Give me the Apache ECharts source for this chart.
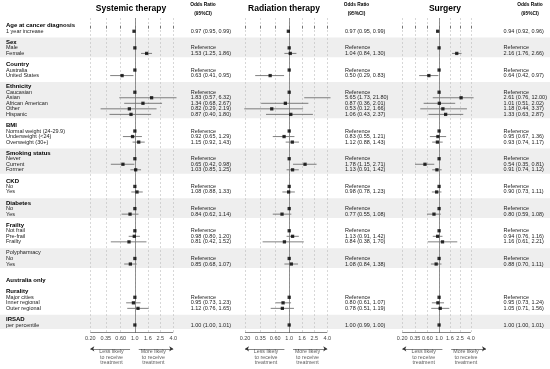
<!DOCTYPE html>
<html><head><meta charset="utf-8">
<script src="https://cdn.jsdelivr.net/npm/echarts@6/dist/echarts.min.js"></script>
<style>html,body{margin:0;padding:0;background:#fff}#c{width:550px;height:369px}</style>
</head><body><div id="c"></div>
<script>
// ---------- data ----------
const rowLabels = ['Age at cancer diagnosis','1 year increase','','Sex','Male','Female','','Country','Australia','United States','',
  'Ethnicity','Caucasian','Asian','African American','Other','Hispanic','','BMI','Normal weight (24-29.9)','Underweight (<24)','Overweight (30+)','',
  'Smoking status','Never','Current','Former','','CKD','No','Yes','','Diabetes','No','Yes','','Frailty','Not frail','Pre-frail','Frailty','',
  'Polypharmacy','No','Yes','','','Australia only','','Rurality','Major cities','Inner regional','Outer regional','','IRSAD','per percentile'];
const headerRows = [0,3,7,11,18,23,28,32,36,46,48,53];
const refRows = [4,8,12,19,24,29,33,37,42,49];
const estRows = [1,5,9,13,14,15,16,20,21,25,26,30,34,38,39,43,50,51,54];

const systemicOR = [0.97,1.53,0.63,1.83,1.34,0.82,0.87,0.92,1.15,0.65,1.03,1.08,0.84,0.98,0.81,0.85,0.95,1.12,1.00];
const systemicLo = [0.95,1.25,0.41,0.57,0.68,0.29,0.40,0.65,0.92,0.42,0.85,0.88,0.62,0.80,0.42,0.68,0.73,0.76,1.00];
const systemicHi = [0.99,1.86,0.95,6.32,2.67,2.19,1.80,1.29,1.43,0.98,1.25,1.33,1.14,1.20,1.52,1.07,1.23,1.65,1.01];

const radiationOR = [0.97,1.04,0.50,5.65,0.87,0.53,1.06,0.83,1.12,1.78,1.13,0.98,0.77,1.13,0.84,1.08,0.80,0.78,1.00];
const radiationLo = [0.95,0.84,0.29,1.73,0.36,0.12,0.43,0.55,0.88,1.15,0.91,0.78,0.55,0.91,0.38,0.84,0.61,0.51,0.99];
const radiationHi = [0.99,1.30,0.83,21.80,2.01,1.66,2.37,1.21,1.43,2.71,1.42,1.23,1.08,1.42,1.70,1.38,1.07,1.19,1.00];

const surgeryOR = [0.94,2.16,0.64,2.61,1.01,1.18,1.33,0.95,0.93,0.54,0.91,0.90,0.80,0.94,1.16,0.88,0.95,1.05,1.00];
const surgeryLo = [0.92,1.76,0.42,0.76,0.51,0.44,0.63,0.67,0.74,0.35,0.74,0.73,0.59,0.76,0.61,0.70,0.73,0.71,1.00];
const surgeryHi = [0.96,2.66,0.97,12.00,2.02,3.37,2.87,1.36,1.17,0.81,1.12,1.11,1.08,1.16,2.21,1.11,1.24,1.56,1.01];

const panelTitles = ['Systemic therapy','Radiation therapy','Surgery'];
const tickValues = [0.2,0.35,0.6,1.0,1.6,2.5,4.0];
const tickLabels = ['0.20','0.35','0.60','1.0','1.6','2.5','4.0'];
const shadedGroups = [[3,5],[11,16],[23,26],[32,34],[41,43],[53,54]];
const lessText = 'Less likely\nto receive\ntreatment';
const moreText = 'More likely\nto receive\ntreatment';
const lessArrow = [0.2,0.84], moreArrow = [1.15,4.0], lessTextAt = 0.43, moreTextAt = 1.95;

// ---------- layout ----------
const FONT = "'Liberation Sans', Arial, sans-serif";
const ROW_MIN = -1.39, ROW_MAX = 55.39;
const GT = 18, GH = 314.7;
const XMIN = Math.log(0.195), XMAX = Math.log(4.5);
const panelLeft = [89.6, 244.3, 401.6], panelWidth = [86.9, 86.2, 87.7];
const orMargin = [14.2, 14.5, 30];
const titleX = [131, 284, 445], orHeadX = [203, 356.5, 530];

const panels = [
  {or: systemicOR, lo: systemicLo, hi: systemicHi},
  {or: radiationOR, lo: radiationLo, hi: radiationHi},
  {or: surgeryOR, lo: surgeryLo, hi: surgeryHi}
];

const grid = [{left: 0, right: 0, top: GT, height: GH}];
const xAxis = [{gridIndex: 0, type: 'value', min: 0, max: 1, show: false}];
const yAxis = [{gridIndex: 0, type: 'value', min: ROW_MIN, max: ROW_MAX, inverse: true, show: false}];
const series = [];

series.push({
  type: 'custom', xAxisIndex: 0, yAxisIndex: 0, z: -10, silent: true,
  data: shadedGroups.map(g => [0, g[0], g[1]]),
  renderItem(params, api) {
    const cs = params.coordSys;
    const a = api.coord([0, api.value(1) - 0.86]);
    const b = api.coord([0, api.value(2) + 0.7]);
    return {type: 'rect', shape: {x: cs.x, y: a[1], width: cs.width, height: b[1] - a[1]}, style: {fill: '#eeeeee'}};
  }
});

const fmtOR = (k, p) => p.or[k].toFixed(2) + ' (' + p.lo[k].toFixed(2) + ', ' + p.hi[k].toFixed(2) + ')';
const tickLogs = tickValues.map(Math.log);
const tickFmt = v => { const i = tickLogs.findIndex(t => Math.abs(t - v) < 1e-6); return i >= 0 ? tickLabels[i] : ''; };
// padded with an empty slot at each end so that no real row is an end label
const labelSlots = [-1].concat(rowLabels.map((_, i) => i), [rowLabels.length]);

panels.forEach((p, k) => {
  const gi = grid.length;
  grid.push({left: panelLeft[k], width: panelWidth[k], top: GT, height: GH});
  xAxis.push({
    gridIndex: gi, type: 'value', min: XMIN, max: XMAX,
    axisLine: {show: false},
    axisTick: {show: true, customValues: tickLogs, length: 3, lineStyle: {color: '#333', width: 0.6}},
    axisLabel: {show: true, customValues: tickLogs, formatter: tickFmt, fontSize: 5.5, color: '#444', margin: 3, fontFamily: FONT, showMinLabel: true, showMaxLabel: true},
    splitLine: {show: true, lineStyle: {color: '#bdbdbd', width: 0.6, type: [2, 2]}}
  });
  const isFirst = k === 0;
  yAxis.push({
    gridIndex: gi, type: 'value', min: ROW_MIN, max: ROW_MAX, inverse: true,
    axisLine: {show: false}, axisTick: {show: false}, splitLine: {show: false},
    axisLabel: isFirst ? {
      show: true, customValues: labelSlots, align: 'left', margin: panelLeft[0] - 6, hideOverlap: false,
      formatter: v => { const t = rowLabels[v]; if (!t) return ''; return headerRows.includes(v) ? '{h|' + t + '}' : '{i|' + t + '}'; },
      rich: {
        h: {fontSize: 6, lineHeight: 6, fontWeight: 'bold', color: '#000', fontFamily: FONT},
        i: {fontSize: 5.5, lineHeight: 5.5, color: '#222', fontFamily: FONT}
      }
    } : {show: false}
  });
  const yi = yAxis.length - 1;
  const pts = estRows.map((r, j) => [Math.log(p.or[j]), r]).concat(refRows.map(r => [0, r]));
  series.push({
    type: 'scatter', xAxisIndex: gi, yAxisIndex: yi, symbol: 'rect', symbolSize: 3.3, z: 5, silent: true,
    itemStyle: {color: '#000'}, data: pts, clip: true,
    markLine: {
      silent: true, symbol: 'none', label: {show: false},
      data: [
        [{coord: [0, ROW_MIN], lineStyle: {color: '#777', width: 0.8, type: 'solid'}}, {coord: [0, ROW_MAX]}],
        [{coord: [Math.log(tickValues[0]), ROW_MAX], lineStyle: {color: '#333', width: 0.6, type: 'solid'}}, {coord: [Math.log(tickValues[tickValues.length - 1]), ROW_MAX]}]
      ]
    }
  });
  series.push({
    type: 'custom', xAxisIndex: gi, yAxisIndex: yi, z: 4, silent: true, clip: true,
    data: estRows.map((r, j) => [Math.log(p.lo[j]), Math.log(p.hi[j]), r]),
    encode: {x: [0, 1], y: 2},
    renderItem(params, api) {
      const cs = params.coordSys;
      const a = api.coord([api.value(0), api.value(2)]);
      const b = api.coord([api.value(1), api.value(2)]);
      const x1 = Math.max(a[0], cs.x), x2 = Math.min(b[0], cs.x + cs.width);
      return {type: 'line', shape: {x1: x1, y1: a[1], x2: x2, y2: a[1]}, style: {stroke: '#4a4a4a', lineWidth: 0.7}};
    }
  });
  yAxis.push({
    gridIndex: gi, type: 'value', min: ROW_MIN, max: ROW_MAX, inverse: true, position: 'right',
    axisLine: {show: false}, axisTick: {show: false}, splitLine: {show: false},
    axisLabel: {
      show: true, customValues: labelSlots, align: 'left', margin: orMargin[k], fontSize: 5.5, lineHeight: 5.5, color: '#222', fontFamily: FONT,
      hideOverlap: false,
      formatter: v => { if (refRows.includes(v)) return 'Reference'; const j = estRows.indexOf(v); return j >= 0 ? fmtOR(j, p) : ''; }
    }
  });
});

panels.forEach((p, k) => {
  const gi = grid.length;
  grid.push({left: panelLeft[k], width: panelWidth[k], top: 345, height: 22});
  xAxis.push({gridIndex: gi, type: 'value', min: XMIN, max: XMAX, show: false});
  yAxis.push({gridIndex: gi, type: 'value', min: 0, max: 4, inverse: true, show: false});
  const yi = yAxis.length - 1;
  const ls = {color: '#333', width: 0.6, type: 'solid'};
  series.push({
    type: 'scatter', xAxisIndex: gi, yAxisIndex: yi, symbolSize: 1, silent: true,
    itemStyle: {color: 'rgba(0,0,0,0)'},
    data: [[Math.log(lessTextAt), 2.25, lessText], [Math.log(moreTextAt), 2.25, moreText]],
    label: {show: true, position: 'inside', formatter: q => q.data[2], fontSize: 5.3, lineHeight: 5.6, color: '#333', align: 'center', fontFamily: FONT},
    markLine: {
      silent: true, label: {show: false}, symbolSize: 4, lineStyle: ls,
      data: [
        [{coord: [Math.log(lessArrow[0]), 0.7], symbol: 'arrow'}, {coord: [Math.log(lessArrow[1]), 0.7], symbol: 'none'}],
        [{coord: [Math.log(moreArrow[0]), 0.7], symbol: 'none'}, {coord: [Math.log(moreArrow[1]), 0.7], symbol: 'arrow'}]
      ]
    }
  });
});

const graphic = [];
panelTitles.forEach((t, k) => {
  graphic.push({type: 'text', x: titleX[k], y: 8.5, style: {text: t, fontSize: 8.5, fontWeight: 'bold', fill: '#000', textAlign: 'center', textVerticalAlign: 'middle', fontFamily: FONT}});
  graphic.push({type: 'text', x: orHeadX[k], y: 5, style: {text: 'Odds Ratio', fontSize: 4.8, fontWeight: 'bold', fill: '#000', textAlign: 'center', textVerticalAlign: 'middle', fontFamily: FONT}});
  graphic.push({type: 'text', x: orHeadX[k], y: 14, style: {text: '(95%CI)', fontSize: 4.8, fontWeight: 'bold', fill: '#000', textAlign: 'center', textVerticalAlign: 'middle', fontFamily: FONT}});
});

const chart = echarts.init(document.getElementById('c'), null, {renderer: 'canvas'});
chart.setOption({animation: false, backgroundColor: '#fff', grid, xAxis, yAxis, series, graphic});
</script></body></html>
